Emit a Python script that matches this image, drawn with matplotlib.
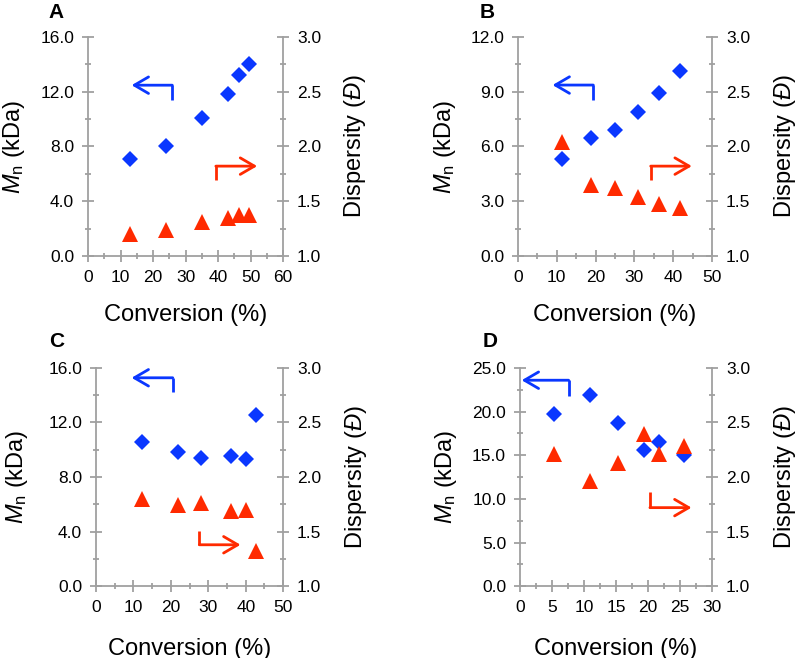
import matplotlib
matplotlib.use('Agg')
import matplotlib.pyplot as plt
from matplotlib.ticker import MultipleLocator, FormatStrFormatter

plt.rcParams['font.family'] = ['Liberation Sans', 'DejaVu Sans']
plt.rcParams['mathtext.fontset'] = 'custom'
plt.rcParams['mathtext.rm'] = 'Liberation Sans'
plt.rcParams['mathtext.it'] = 'Liberation Sans:italic'

# data
conv_a = [13.0, 24.0, 35.0, 43.0, 46.5, 49.5]
mn_a = [7.1, 8.0, 10.1, 11.8, 13.2, 14.0]
disp_a = [1.20, 1.24, 1.31, 1.35, 1.37, 1.37]

conv_b = [11.3, 18.7, 24.9, 31.0, 36.4, 41.7]
mn_b = [5.3, 6.45, 6.9, 7.87, 8.93, 10.15]
disp_b = [2.04, 1.65, 1.62, 1.54, 1.47, 1.44]

conv_c = [12.3, 22.0, 28.0, 36.0, 40.0, 42.8]
mn_c = [10.56, 9.85, 9.39, 9.56, 9.34, 12.52]
disp_c = [1.80, 1.74, 1.76, 1.69, 1.70, 1.32]

conv_d = [5.3, 11.0, 15.3, 19.3, 21.7, 25.7]
mn_d = [19.75, 21.94, 18.65, 15.58, 16.5, 14.97]
disp_d = [2.21, 1.96, 2.13, 2.39, 2.21, 2.28]

BLUE = '#0a37ff'
RED = '#ff2a00'
GRAY = '#a0a0a0'

fig = plt.figure(figsize=(8, 6.58), dpi=100)


def arrow(ax, tip, bend, tail, color):
    ax.plot([bend[0], tail[0]], [bend[1], tail[1]], color=color, lw=2,
            solid_capstyle='butt', zorder=3)
    ax.annotate('', xy=tip, xytext=bend,
                arrowprops=dict(arrowstyle='->,head_length=0.6,head_width=0.35',
                                color=color, lw=2, mutation_scale=17,
                                shrinkA=0, shrinkB=0), zorder=3)


def style(ax):
    for s in ax.spines.values():
        s.set_color(GRAY)
        s.set_linewidth(1.3)
    ax.spines['top'].set_visible(False)
    ax.tick_params(which='major', direction='inout', length=8, width=1.3,
                   color=GRAY, labelsize=12.5, pad=6)
    ax.tick_params(which='minor', direction='inout', length=5, width=1.3,
                   color=GRAY)


def panel(rect, letter, conv, mn, disp, xmax, xstep, ymax, ystep,
          blue_arr, red_arr, lab):
    ax = fig.add_axes(rect)
    ax.plot(conv, mn, 'D', color=BLUE, ms=8, mew=0, zorder=4)
    ax.set_xlim(0, xmax)
    ax.set_ylim(0, ymax)
    ax.xaxis.set_major_locator(MultipleLocator(xstep))
    ax.xaxis.set_minor_locator(MultipleLocator(xstep / 2))
    ax.yaxis.set_major_locator(MultipleLocator(ystep))
    ax.yaxis.set_minor_locator(MultipleLocator(ystep / 2))
    ax.yaxis.set_major_formatter(FormatStrFormatter('%.1f'))
    ax.spines['right'].set_visible(False)
    style(ax)
    ax.set_xlabel('Conversion (%)', fontsize=17)
    ax.set_ylabel(r'$M_\mathrm{n}$ (kDa)', fontsize=17)
    ax.xaxis.set_label_coords(0.5, lab[2])
    ax.yaxis.set_label_coords(lab[0], 0.5)
    arrow(ax, *blue_arr, BLUE)

    ax2 = ax.twinx()
    ax2.plot(conv, disp, '^', color=RED, ms=11.5, mew=0, zorder=4)
    ax2.set_ylim(1.0, 3.0)
    ax2.yaxis.set_major_locator(MultipleLocator(0.5))
    ax2.yaxis.set_minor_locator(MultipleLocator(0.25))
    ax2.yaxis.set_major_formatter(FormatStrFormatter('%.1f'))
    ax2.spines['left'].set_visible(False)
    ax2.spines['bottom'].set_visible(False)
    style(ax2)
    ax2.set_ylabel(r'Dispersity ($\mathit{Đ}$)', fontsize=17)
    ax2.yaxis.set_label_coords(lab[1], 0.5)
    arrow(ax2, *red_arr, RED)

    ax.text(lab[3], lab[4], letter, transform=ax.transAxes, fontsize=15,
            fontweight='bold', ha='left', va='center')


panel([0.110, 0.611, 0.244, 0.333], 'A', conv_a, mn_a, disp_a, 60, 10, 16, 4,
      ((13.4, 12.47), (25.9, 12.47), (25.9, 11.38)),
      ((52.0, 1.82), (39.3, 1.82), (39.3, 1.69)),
      (-0.315, 1.30, -0.22, -0.20, 1.11))
panel([0.6475, 0.611, 0.2425, 0.333], 'B', conv_b, mn_b, disp_b, 50, 10, 12, 3,
      ((8.9, 9.36), (19.4, 9.36), (19.4, 8.54)),
      ((44.8, 1.82), (34.2, 1.82), (34.2, 1.69)),
      (-0.31, 1.31, -0.22, -0.196, 1.11))
panel([0.120, 0.109, 0.234, 0.332], 'C', conv_c, mn_c, disp_c, 50, 10, 16, 4,
      ((9.5, 15.27), (20.5, 15.27), (20.5, 14.24)),
      ((38.6, 1.38), (27.6, 1.38), (27.6, 1.51)),
      (-0.355, 1.32, -0.235, -0.25, 1.12))
panel([0.650, 0.109, 0.240, 0.332], 'D', conv_d, mn_d, disp_d, 30, 5, 25, 5,
      ((0.26, 23.58), (7.6, 23.58), (7.6, 21.75)),
      ((26.8, 1.72), (20.3, 1.72), (20.3, 1.86)),
      (-0.32, 1.315, -0.235, -0.196, 1.12))

fig.savefig('out.png', dpi=100)
